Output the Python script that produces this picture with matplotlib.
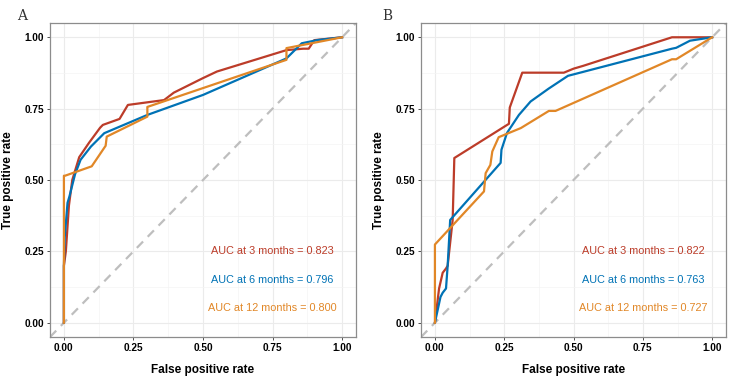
import matplotlib
matplotlib.use("Agg")
import matplotlib.pyplot as plt
from matplotlib.ticker import MultipleLocator

# Colores tipo paleta NEJM
COLORES = ["#BC3C29", "#0072B5", "#E18727"]
ETIQUETAS = ["3 months", "6 months", "12 months"]

# ---- Panel A ----
a_fpr_3 = [0, 0, 0.007, 0.018, 0.03, 0.055, 0.09, 0.13, 0.14, 0.2, 0.23,
           0.36, 0.395, 0.5, 0.55, 0.8, 0.86, 0.88, 0.9, 1]
a_tpr_3 = [0, 0.2, 0.25, 0.41, 0.5, 0.58, 0.63, 0.683, 0.693, 0.714, 0.763,
           0.78, 0.806, 0.857, 0.88, 0.955, 0.96, 0.96, 0.99, 1]
a_fpr_6 = [0, 0, 0.003, 0.013, 0.02, 0.04, 0.06, 0.097, 0.145, 0.3, 0.5,
           0.8, 0.855, 0.91, 1]
a_tpr_6 = [0, 0.2, 0.3, 0.42, 0.443, 0.52, 0.571, 0.617, 0.664, 0.728, 0.798,
           0.926, 0.979, 0.99, 1]
a_fpr_12 = [0, 0, 0.004, 0.1, 0.15, 0.154, 0.3, 0.3, 0.8, 0.8, 0.89, 1]
a_tpr_12 = [0, 0.515, 0.515, 0.548, 0.62, 0.652, 0.722, 0.756, 0.921, 0.962,
            0.979, 1]
a_auc = [0.823, 0.796, 0.800]

# ---- Panel B ----
b_fpr_3 = [0, 0.015, 0.028, 0.04, 0.046, 0.064, 0.07, 0.267, 0.27, 0.315,
           0.465, 0.5, 0.535, 0.855, 1]
b_tpr_3 = [0, 0.12, 0.175, 0.19, 0.2, 0.36, 0.577, 0.697, 0.754, 0.876,
           0.876, 0.89, 0.9, 1.0, 1]
b_fpr_6 = [0, 0.02, 0.028, 0.04, 0.046, 0.055, 0.237, 0.24, 0.26, 0.303,
           0.345, 0.41, 0.48, 0.5, 0.855, 0.87, 0.92, 1]
b_tpr_6 = [0, 0.09, 0.105, 0.12, 0.2, 0.36, 0.56, 0.606, 0.665, 0.728,
           0.775, 0.82, 0.865, 0.87, 0.96, 0.963, 0.988, 1]
b_fpr_12 = [0, 0, 0.177, 0.183, 0.2, 0.207, 0.23, 0.31, 0.411, 0.435,
            0.855, 0.87, 1]
b_tpr_12 = [0, 0.274, 0.46, 0.524, 0.553, 0.6, 0.65, 0.682, 0.742, 0.742,
            0.923, 0.923, 1]
b_auc = [0.822, 0.763, 0.727]

TICKS = [0, 0.25, 0.5, 0.75, 1.0]
TICK_LABELS = ["0.00", "0.25", "0.50", "0.75", "1.00"]


def dibujar_panel(ax, curvas, aucs):
    ax.set_xlim(-0.05, 1.05)
    ax.set_ylim(-0.05, 1.05)
    ax.plot([-0.05, 1.05], [-0.05, 1.05], ls=(0, (4, 3)), color="#BEBEBE",
            lw=1.6, zorder=1)
    for (fpr, tpr), color in zip(curvas, COLORES):
        ax.plot(fpr, tpr, color=color, lw=1.6, zorder=3)
    for i, (auc, etiqueta, color) in enumerate(zip(aucs, ETIQUETAS, COLORES)):
        ax.text(0.75, 0.25 - 0.1 * i, f"AUC at {etiqueta} = {auc:.3f}",
                color=color, ha="center", va="center", fontsize=7.8)

    ax.set_xticks(TICKS)
    ax.set_xticklabels(TICK_LABELS)
    ax.set_yticks(TICKS)
    ax.set_yticklabels(TICK_LABELS)
    ax.xaxis.set_minor_locator(MultipleLocator(0.125))
    ax.yaxis.set_minor_locator(MultipleLocator(0.125))
    ax.grid(which="major", color="#EBEBEB", lw=0.8)
    ax.grid(which="minor", color="#F4F4F4", lw=0.5)
    ax.set_axisbelow(True)
    ax.tick_params(which="major", length=2.5, width=0.6, color="#333333",
                   labelsize=7.2, pad=2)
    ax.tick_params(which="minor", length=0)
    for lab in ax.get_xticklabels() + ax.get_yticklabels():
        lab.set_fontweight("bold")
    for spine in ax.spines.values():
        spine.set_color("#8C8C8C")
        spine.set_linewidth(0.9)
    ax.set_xlabel("False positive rate", fontsize=8.5, fontweight="bold",
                  labelpad=8)
    ax.set_ylabel("True positive rate", fontsize=8.5, fontweight="bold",
                  labelpad=7)


fig = plt.figure(figsize=(7.31, 3.79), dpi=100)
plt.rcParams["font.family"] = ["Liberation Sans", "DejaVu Sans"]

ax_a = fig.add_axes([0.0684, 0.1108, 0.4186, 0.8285])
ax_b = fig.add_axes([0.576, 0.1108, 0.4172, 0.8285])

dibujar_panel(ax_a, [(a_fpr_3, a_tpr_3), (a_fpr_6, a_tpr_6),
                     (a_fpr_12, a_tpr_12)], a_auc)
dibujar_panel(ax_b, [(b_fpr_3, b_tpr_3), (b_fpr_6, b_tpr_6),
                     (b_fpr_12, b_tpr_12)], b_auc)

fig.text(0.030, 0.975, "A", family="DejaVu Serif", fontsize=10,
         ha="center", va="top", color="#333333")
fig.text(0.530, 0.975, "B", family="DejaVu Serif", fontsize=10,
         ha="center", va="top", color="#333333")

fig.savefig("out.png", dpi=100)
